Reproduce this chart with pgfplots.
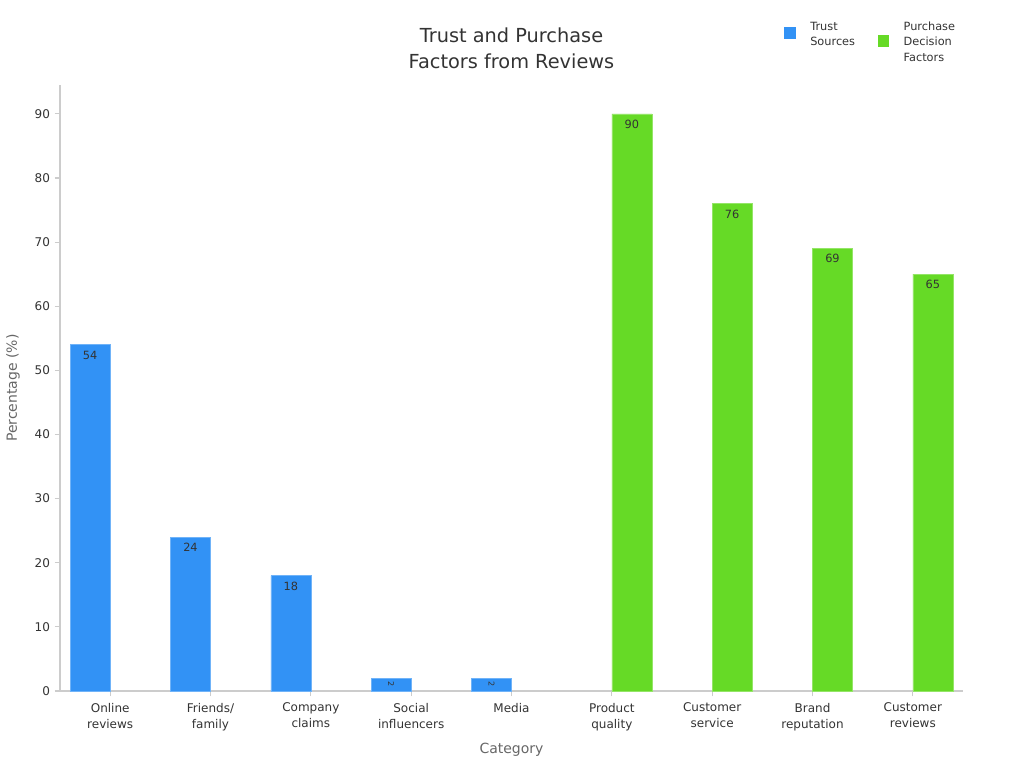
\documentclass[border=0pt]{standalone}
\usepackage{pgfplots}
\pgfplotsset{compat=1.18}
\usepackage{fontspec}
\setmainfont{DejaVu Sans}
\definecolor{trustc}{HTML}{3292F5}
\definecolor{purchc}{HTML}{66DA26}
\definecolor{axisgray}{HTML}{CCCCCC}
\definecolor{labgray}{HTML}{666666}
\definecolor{tickc}{HTML}{333333}
\begin{document}
\begin{tikzpicture}[x=1pt,y=1pt]
\useasboundingbox (0,0) rectangle (768,576);
\begin{axis}[
  at={(45pt,57.75pt)}, anchor=south west,
  scale only axis, width=677.25pt, height=454.5pt,
  xmin=-0.5, xmax=8.5, ymin=0, ymax=94.5,
  ybar, bar width=30pt,
  axis x line*=bottom, axis y line*=left,
  axis line style={axisgray, line width=0.8pt},
  tick style={axisgray, line width=0.8pt},
  major tick length=4pt,
  tick align=outside,
  xtick={0,...,8},
  xticklabels={Online\\reviews, Friends/\\family, Company\\claims, Social\\influencers, Media, Product\\quality, Customer\\service, Brand\\reputation, Customer\\reviews},
  xticklabel style={align=center, font=\fontsize{9}{12}\selectfont, text=tickc, yshift=-1.5pt},
  ytick={0,10,...,90},
  yticklabel style={font=\fontsize{9}{11}\selectfont, text=tickc},
  /pgf/number format/assume math mode=true,
  xlabel={Category}, ylabel={Percentage (\%)},
  xlabel style={at={(axis description cs:0.5,-0.097)}, anchor=center, font=\fontsize{10.5}{12}\selectfont, text=labgray},
  ylabel style={at={(axis description cs:-0.052,0.5)}, anchor=center, rotate=0, font=\fontsize{10.5}{12}\selectfont, text=labgray},
  title={Trust and Purchase\\Factors from Reviews},
  title style={at={(axis description cs:0.5,1.061)}, anchor=center, yshift=-6pt, align=center, font=\fontsize{14.5}{19.5}\selectfont, text=tickc},
  legend style={at={(axis description cs:0.7975,1.11)}, anchor=north west, draw=none, fill=none,
    font=\fontsize{8.5}{11.5}\selectfont, text=tickc, legend columns=2,
    nodes={align=left, anchor=north west, inner ysep=0pt, inner xsep=0pt},
    /tikz/every even column/.append style={column sep=17pt}},
  nodes near coords,
  every node near coord/.append style={anchor=north, font=\fontsize{8.5}{10}\selectfont, text=tickc, yshift=-1pt},
  clip=false,
]
\addplot[fill=trustc, draw=trustc!70!white, bar shift=-15pt,
  legend image code/.code={\fill[trustc] (0pt,-4.5pt) rectangle (8pt,-12.5pt); \path (19pt,0pt);}] coordinates {(0,54) (1,24) (2,18)};
\addlegendentry{Trust\\Sources}
\addplot[fill=purchc, draw=purchc!70!white, bar shift=15pt,
  legend image code/.code={\fill[purchc] (0pt,-10.5pt) rectangle (8pt,-18.5pt); \path (19pt,0pt);}] coordinates {(5,90) (6,76) (7,69) (8,65)};
\addlegendentry{Purchase\\Decision\\Factors}
\addplot[fill=trustc, draw=trustc!70!white, bar shift=-15pt, forget plot,
  every node near coord/.append style={yshift=-3.7pt, rotate=-90, anchor=center, font=\fontsize{6}{7}\selectfont}] coordinates {(3,2) (4,2)};
\end{axis}
\end{tikzpicture}
\end{document}
